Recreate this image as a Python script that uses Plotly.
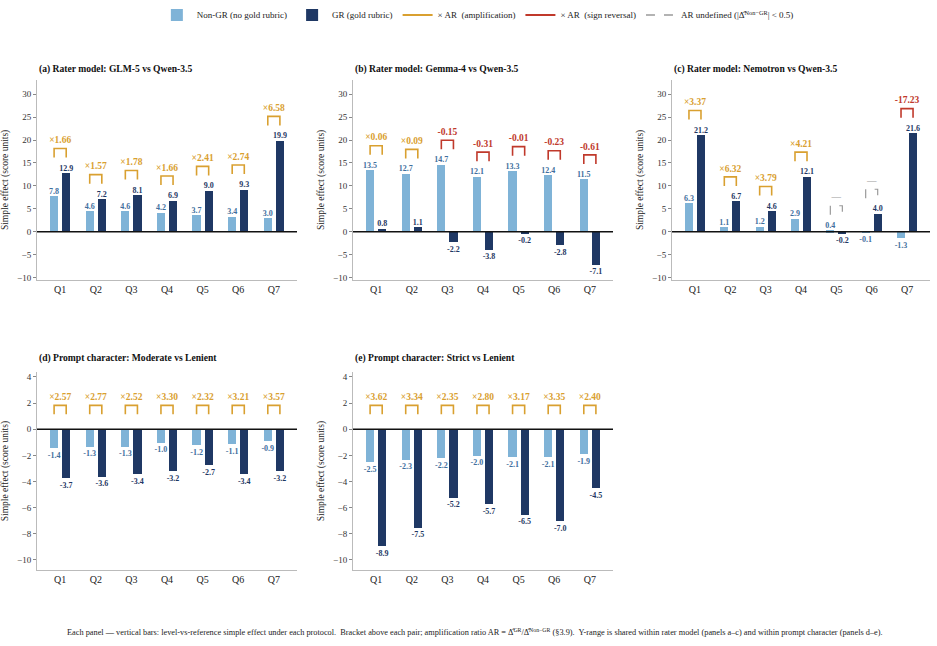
import plotly.graph_objects as go

questions = ["Q1", "Q2", "Q3", "Q4", "Q5", "Q6", "Q7"]

panel_titles = [
    "(a) Rater model: GLM-5 vs Qwen-3.5",
    "(b) Rater model: Gemma-4 vs Qwen-3.5",
    "(c) Rater model: Nemotron vs Qwen-3.5",
    "(d) Prompt character: Moderate vs Lenient",
    "(e) Prompt character: Strict vs Lenient",
]

nongr_a = [7.8, 4.6, 4.6, 4.2, 3.7, 3.4, 3.0]
gr_a = [12.9, 7.2, 8.1, 6.9, 9.0, 9.3, 19.9]
ar_a = [1.66, 1.57, 1.78, 1.66, 2.41, 2.74, 6.58]

nongr_b = [13.5, 12.7, 14.7, 12.1, 13.3, 12.4, 11.5]
gr_b = [0.8, 1.1, -2.2, -3.8, -0.2, -2.8, -7.1]
ar_b = [0.06, 0.09, -0.15, -0.31, -0.01, -0.23, -0.61]

nongr_c = [6.3, 1.1, 1.2, 2.9, 0.4, -0.1, -1.3]
gr_c = [21.2, 6.7, 4.6, 12.1, -0.2, 4.0, 21.6]
ar_c = [3.37, 6.32, 3.79, 4.21, None, None, -17.23]

nongr_d = [-1.4, -1.3, -1.3, -1.0, -1.2, -1.1, -0.9]
gr_d = [-3.7, -3.6, -3.4, -3.2, -2.7, -3.4, -3.2]
ar_d = [2.57, 2.77, 2.52, 3.30, 2.32, 3.21, 3.57]

nongr_e = [-2.5, -2.3, -2.2, -2.0, -2.1, -2.1, -1.9]
gr_e = [-8.9, -7.5, -5.2, -5.7, -6.5, -7.0, -4.5]
ar_e = [3.62, 3.34, 2.35, 2.80, 3.17, 3.35, 2.40]

panels = [
    (nongr_a, gr_a, ar_a),
    (nongr_b, gr_b, ar_b),
    (nongr_c, gr_c, ar_c),
    (nongr_d, gr_d, ar_d),
    (nongr_e, gr_e, ar_e),
]

yticks_top = [-10, -5, 0, 5, 10, 15, 20, 25, 30]
yticks_bottom = [-10, -8, -6, -4, -2, 0, 2, 4]

# styles
C_LIGHT = "#7fb3d7"
C_DARK = "#1f3864"
C_LIGHT_TXT = "#3f6f9e"
C_DARK_TXT = "#1f3864"
C_AMP = "#d9a030"
C_REV = "#c0392b"
C_UND = "#9a9a9a"
FONT = "Liberation Serif"

W, H = 937, 646
xdoms = [(37, 297), (353, 613), (672, 930), (37, 297), (353, 613)]
ydoms_px = [(78, 280)] * 3 + [(372, 572)] * 2
yranges = [[-10.6, 33.2]] * 3 + [[-10.8, 4.4]] * 2
title_y_px = [67, 67, 67, 358, 358]

BW = 0.23
OFF = 0.17

fig = go.Figure()
layout = {}
annotations = []
shapes = []

for i, (ng, g, ar) in enumerate(panels):
    n = i + 1
    xa = "x" if n == 1 else f"x{n}"
    ya = "y" if n == 1 else f"y{n}"
    xs = list(range(len(questions)))
    span = yranges[i][1] - yranges[i][0]

    fig.add_trace(go.Bar(x=xs, y=ng, width=BW, offset=-OFF - BW / 2,
                         marker=dict(color=C_LIGHT, line=dict(width=0)),
                         name="Non-GR (no gold rubric)", showlegend=(i == 0),
                         legendgroup="ng", xaxis=xa, yaxis=ya, hoverinfo="skip"))
    fig.add_trace(go.Bar(x=xs, y=g, width=BW, offset=OFF - BW / 2,
                         marker=dict(color=C_DARK, line=dict(width=0)),
                         name="GR (gold rubric)", showlegend=(i == 0),
                         legendgroup="g", xaxis=xa, yaxis=ya, hoverinfo="skip"))

    # value labels
    for vals, sign, col in ((ng, -1, C_LIGHT_TXT), (g, 1, C_DARK_TXT)):
        for pos_flag in (True, False):
            px_ = [x + sign * OFF for x, v in zip(xs, vals) if (v >= 0) == pos_flag]
            py_ = [v if pos_flag else v - 0.02 * span for v in vals if (v >= 0) == pos_flag]
            tx_ = [f"<b>{v:.1f}</b>" for v in vals if (v >= 0) == pos_flag]
            if not px_:
                continue
            fig.add_trace(go.Scatter(x=px_, y=py_, text=tx_, mode="text",
                                     textposition="top center" if pos_flag else "bottom center",
                                     textfont=dict(family=FONT, size=8, color=col),
                                     showlegend=False, xaxis=xa, yaxis=ya, hoverinfo="skip"))

    # brackets
    groups = {"amp": ([], [], [], [], []), "rev": ([], [], [], [], []), "und": ([], [], [], [], [])}
    for x, a, b, r in zip(xs, ng, g, ar):
        top = max(0, a, b) + 0.12 * span
        leg = 0.045 * span
        if r is None:
            key, lab = "und", "—"
        elif r < 0:
            key, lab = "rev", f"<b>{r:.2f}</b>"
        else:
            key, lab = "amp", f"<b>×{r:.2f}</b>"
        bx, by, tx, ty, tt = groups[key]
        bx += [x - OFF, x - OFF, x + OFF, x + OFF, None]
        by += [top - leg, top, top, top - leg, None]
        tx.append(x)
        ty.append(top + 0.015 * span)
        tt.append(lab)
    for key, col, dash in (("amp", C_AMP, "solid"), ("rev", C_REV, "solid"), ("und", C_UND, "dash")):
        bx, by, tx, ty, tt = groups[key]
        if not tx:
            continue
        fig.add_trace(go.Scatter(x=bx, y=by, mode="lines",
                                 line=dict(color=col, width=1.6 if dash == "solid" else 1.2, dash=dash),
                                 showlegend=False, xaxis=xa, yaxis=ya, hoverinfo="skip"))
        fig.add_trace(go.Scatter(x=tx, y=ty, text=tt, mode="text", textposition="top center",
                                 textfont=dict(family=FONT, size=9.5, color=col),
                                 showlegend=False, xaxis=xa, yaxis=ya, hoverinfo="skip"))

    x0, x1 = xdoms[i]
    yt, yb = ydoms_px[i]
    layout[f"xaxis{n if n > 1 else ''}"] = dict(
        domain=[x0 / W, x1 / W], anchor=ya, range=[-0.65, 6.65],
        tickmode="array", tickvals=xs, ticktext=questions, ticks="",
        showline=True, linecolor="#bbbbbb", linewidth=1, showgrid=False, zeroline=False,
        tickfont=dict(family=FONT, size=10, color="#222"),
    )
    layout[f"yaxis{n if n > 1 else ''}"] = dict(
        domain=[1 - yb / H, 1 - yt / H], anchor=xa, range=yranges[i],
        tickmode="array", tickvals=yticks_top if i < 3 else yticks_bottom,
        ticks="outside", ticklen=3, tickcolor="#888", tickwidth=1,
        showline=True, linecolor="#bbbbbb", linewidth=1, showgrid=False, zeroline=False,
        tickfont=dict(family=FONT, size=9, color="#333"),
        title=dict(text="Simple effect (score units)", font=dict(family=FONT, size=9.5, color="#222"),
                   standoff=6),
    )
    shapes.append(dict(type="line", xref=f"{xa} domain", yref=ya, x0=0, x1=1, y0=0, y1=0,
                       line=dict(color="#111", width=1.6), layer="above"))
    annotations.append(dict(text=f"<b>{panel_titles[i]}</b>", xref="paper", yref="paper",
                            x=x0 / W, y=1 - title_y_px[i] / H, xanchor="left", yanchor="middle",
                            showarrow=False, font=dict(family=FONT, size=9.6, color="#111")))

# legend-only line entries
fig.add_trace(go.Scatter(x=[None], y=[None], mode="lines", line=dict(color=C_AMP, width=2),
                         name="× AR  (amplification)"))
fig.add_trace(go.Scatter(x=[None], y=[None], mode="lines", line=dict(color=C_REV, width=2),
                         name="× AR  (sign reversal)"))
fig.add_trace(go.Scatter(x=[None], y=[None], mode="lines", line=dict(color=C_UND, width=1.5, dash="dash"),
                         name="AR undefined (|Δ̂<sup>Non−GR</sup>| < 0.5)"))

annotations.append(dict(
    text=("Each panel — vertical bars: level-vs-reference simple effect under each protocol.  "
          "Bracket above each pair; amplification ratio AR = Δ̂<sup>GR</sup>/Δ̂<sup>Non−GR</sup> (§3.9).  "
          "Y-range is shared within rater model (panels a–c) and within prompt character (panels d–e)."),
    xref="paper", yref="paper", x=475 / W, y=1 - 634 / H, xanchor="center", yanchor="middle",
    showarrow=False, font=dict(family=FONT, size=8.3, color="#222")))

fig.update_layout(
    width=W, height=H, margin=dict(l=0, r=0, t=0, b=0),
    paper_bgcolor="white", plot_bgcolor="white",
    barmode="overlay", bargap=0,
    font=dict(family=FONT, size=9, color="#222"),
    legend=dict(orientation="h", x=0.51, xanchor="center", y=1 - 13 / H, yanchor="middle",
                font=dict(family=FONT, size=9, color="#222"), itemwidth=30,
                bgcolor="rgba(0,0,0,0)", tracegroupgap=0),
    annotations=annotations, shapes=shapes,
    **layout,
)

fig.write_html("out.html")
